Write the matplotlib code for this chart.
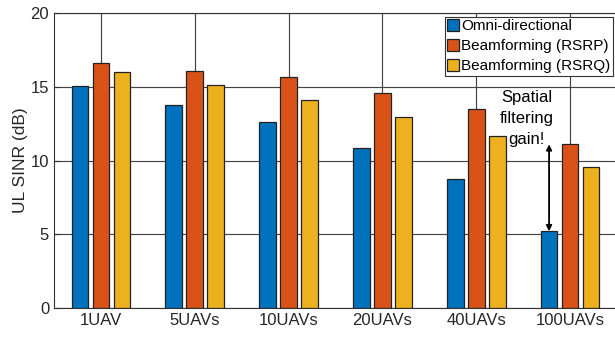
import numpy as np
import matplotlib.pyplot as plt

plt.rcParams['font.family'] = ['Liberation Sans', 'DejaVu Sans']

categories = ["1UAV", "5UAVs", "10UAVs", "20UAVs", "40UAVs", "100UAVs"]
omni = [15.05, 13.75, 12.62, 10.83, 8.77, 5.2]
bf_rsrp = [16.6, 16.1, 15.67, 14.6, 13.47, 11.1]
bf_rsrq = [15.98, 15.14, 14.08, 12.97, 11.64, 9.56]
labels = ["Omni-directional", "Beamforming (RSRP)", "Beamforming (RSRQ)"]
colors = ["#0072BD", "#D95319", "#EDB120"]

fig = plt.figure(figsize=(6.15, 3.39), dpi=100)
ax = fig.add_axes([54 / 615, 1 - 308 / 339, 563 / 615, 295 / 339])

x = np.arange(1, len(categories) + 1)
step = 0.224
width = 0.178
for i, (vals, lab, c) in enumerate(zip([omni, bf_rsrp, bf_rsrq], labels, colors)):
    ax.bar(x + (i - 1) * step, vals, width, color=c, edgecolor="#222222",
           linewidth=0.9, label=lab, zorder=2)

ax.set_xlim(0.5, 6.5)
ax.set_ylim(0, 20)
ax.set_xticks(x)
ax.set_xticklabels(categories)
ax.set_yticks([0, 5, 10, 15, 20])
ax.tick_params(direction="in", length=4, labelsize=12, color="#333333",
               labelcolor="#262626")
ax.grid(True, color="#444444", linewidth=0.85, zorder=0)
ax.set_axisbelow(True)
for s in ax.spines.values():
    s.set_color("#333333")
    s.set_linewidth(0.8)
ax.set_ylabel("UL SINR (dB)", fontsize=12.5, color="#262626")
ax.yaxis.set_label_coords(-0.047, 0.5)

# spatial filtering gain annotation
xa = x[-1] - step
ax.annotate("", xy=(xa, omni[-1]), xytext=(xa, bf_rsrp[-1]),
            arrowprops=dict(arrowstyle="<|-|>", color="black", lw=1.3,
                            mutation_scale=8, shrinkA=0, shrinkB=0), zorder=4)
ax.text(5.54, 12.85, "Spatial\nfiltering\ngain!", ha="center", va="center",
        fontsize=12, linespacing=1.5, zorder=4)

leg = ax.legend(loc="upper right", bbox_to_anchor=(613 / 615, 1 - 17 / 339),
                bbox_transform=fig.transFigure, borderaxespad=0, fontsize=11,
                fancybox=False, framealpha=1, edgecolor="#333333",
                handlelength=0.8, handleheight=0.8, handletextpad=0.15,
                labelspacing=0.38, borderpad=0.15)
leg.get_frame().set_linewidth(0.8)

fig.savefig("out.png", dpi=100)
